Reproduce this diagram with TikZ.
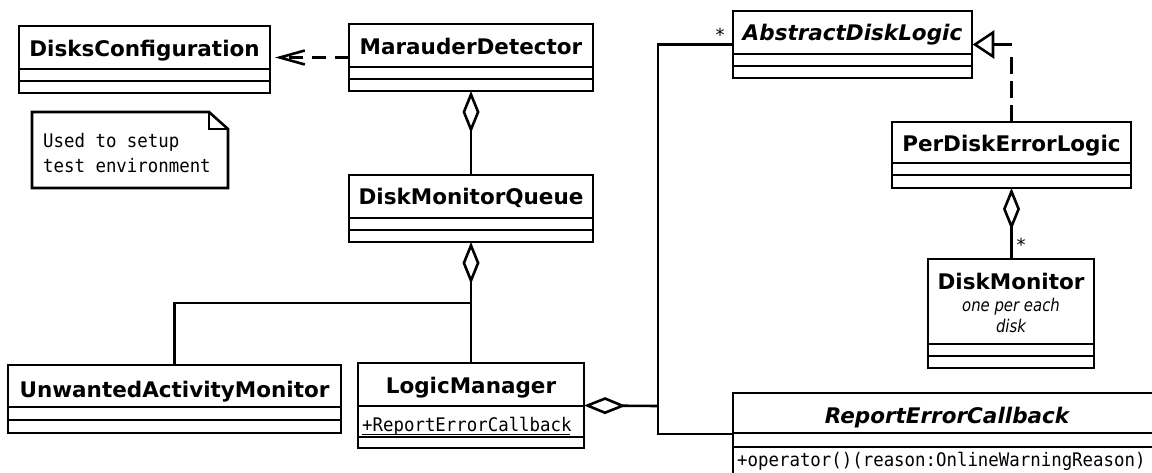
\documentclass[tikz,border=0pt]{standalone}
\usepackage{fontspec}
\setmainfont{DejaVu Sans}
\setmonofont{DejaVu Sans Mono}
\newfontfamily\membermono[FakeStretch=0.93]{DejaVu Sans Mono}
\newfontfamily\commentfont[FakeStretch=0.85]{DejaVu Sans}
\usetikzlibrary{arrows.meta}

\tikzset{
  umlline/.style={line width=2.6pt, line join=miter},
  classbox/.style={draw, umlline, rectangle, inner sep=0pt, outer sep=0pt, fill=white},
  titletext/.style={inner sep=0pt, anchor=base, font=\fontsize{21.5}{25}\selectfont\bfseries},
  abstracttext/.style={inner sep=0pt, anchor=base, font=\fontsize{21.5}{25}\selectfont\bfseries\itshape},
  membertext/.style={inner sep=0pt, anchor=base west, font=\fontsize{18.7}{25}\selectfont\membermono},
  commenttext/.style={inner sep=0pt, anchor=base, font=\fontsize{17.5}{20}\selectfont\commentfont\itshape},
  multtext/.style={inner sep=0pt, anchor=base, font=\fontsize{18}{20}\selectfont},
  conn/.style={umlline},
  aggr/.style={conn, {Diamond[open, length=42pt, width=17pt]}-},
  depend/.style={conn, dash pattern=on 14pt off 9pt, -{Straight Barb[length=25pt, width=14pt]}, shorten >=5pt},
  realizeline/.style={conn, dash pattern=on 17pt off 7pt},
  realizehead/.style={umlline, fill=white},
}

% UML class frame: #1 name, #2 left, #3 right, #4 top, #5 bottom,
% #6 and #7 the two compartment separators
\newcommand{\classframe}[7]{%
  \node[classbox, minimum width={(#3)-(#2)}, minimum height={(#5)-(#4)}]
    (#1) at ({((#2)+(#3))/2},{((#4)+(#5))/2}) {};
  \draw[umlline] (#2,#6) -- (#3,#6) (#2,#7) -- (#3,#7);
}

\begin{document}
\begin{tikzpicture}[x=1pt, y=-1pt]
  \useasboundingbox (0,0) rectangle (1152,473);
  \clip (0,0) rectangle (1152,473);
  \fill[white] (0,0) rectangle (1152,473);

  % classes
  \classframe{dc}{19}{270}{26}{93}{69}{81}
  \node[titletext] (dc-name) at (144.5,57) {DisksConfiguration};

  \classframe{md}{349}{593}{24}{91}{67}{79}
  \node[titletext] (md-name) at (471,55) {MarauderDetector};

  \classframe{dmq}{349}{593}{175}{242}{218}{230}
  \node[titletext] (dmq-name) at (471,205) {DiskMonitorQueue};

  \classframe{uam}{8}{341}{365}{433}{407}{420}
  \node[titletext] (uam-name) at (174.5,397) {UnwantedActivityMonitor};

  \classframe{lm}{358}{584}{363}{448}{406}{437}
  \node[titletext] (lm-name) at (471,393) {LogicManager};
  \node[membertext] (lm-attr) at (362,431) {+ReportErrorCallback};
  \draw[line width=0.9pt] ([yshift=-3pt]lm-attr.base west) -- ([yshift=-3pt,xshift=-2pt]lm-attr.base east);

  \classframe{adl}{733}{972}{11}{78}{54}{66}
  \node[abstracttext] (adl-name) at (852.5,41) {AbstractDiskLogic};

  \classframe{pdel}{892}{1131}{122}{188}{163}{175}
  \node[titletext] (pdel-name) at (1011.5,152) {PerDiskErrorLogic};

  \classframe{dm}{928}{1094}{259}{368}{344}{356}
  \node[titletext] (dm-name) at (1011,290) {DiskMonitor};
  \node[commenttext] (dm-note1) at (1011,312) {one per each};
  \node[commenttext] (dm-note2) at (1011,333) {disk};

  \classframe{rc}{733}{1161}{393}{475}{433}{447}
  \node[abstracttext] (rc-name) at (947,423) {ReportErrorCallback};
  \node[membertext] (rc-op) at (737,466) {+operator()(reason:OnlineWarningReason)};

  % note with folded corner
  \draw[umlline] (32,112) -- (209,112) -- (228,129) -- (228,188) -- (32,188) -- cycle;
  \draw[line width=1.2pt] (209,112) -- (209,129) -- (228,129);
  \node[membertext] (note1) at (43,148) {Used to setup};
  \node[membertext] (note2) at (43,173) {test environment};

  % junction points
  \coordinate (j1) at (471,303);
  \coordinate (j2) at (658,406);
  \coordinate (rbend) at (pdel.north |- adl.east);
  \coordinate (tri-tip) at ([xshift=3pt]adl.east);
  \coordinate (tri-base) at ([xshift=21pt]adl.east);

  % connectors
  \draw[depend] (md.west) -- (md.west -| dc.east);
  \draw[aggr] (md.south) -- (dmq.north);
  \draw[aggr] (dmq.south) -- (j1);
  \draw[conn] (uam.north) |- (j1) -- (lm.north);
  \draw[aggr] (lm.east) -- (j2);
  \draw[conn] (adl.west) -| (j2) |- (rc.west);
  \draw[aggr] (pdel.south) -- (pdel.south |- dm.north);

  % realization: dashed riser, short lead and hollow triangle
  \draw[realizeline] (pdel.north) -- ([yshift=-13pt]rbend);
  \draw[conn] (rbend) -- (tri-base);
  \draw[realizehead] (tri-tip) -- ([yshift=12pt]tri-base) -- ([yshift=-12pt]tri-base) -- cycle;

  % multiplicities
  \node[multtext] (mult-adl) at (720,42) {*};
  \node[multtext] (mult-dm) at (1021,252) {*};
\end{tikzpicture}
\end{document}
